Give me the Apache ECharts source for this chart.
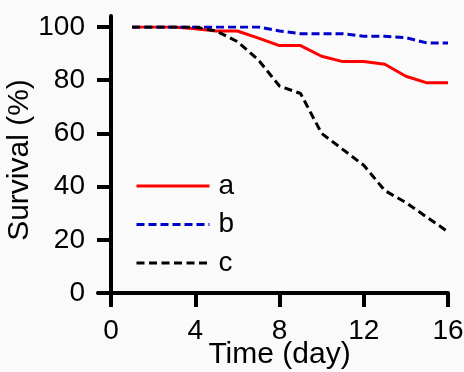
<!DOCTYPE html>
<html>
<head>
<meta charset="utf-8">
<style>html,body{margin:0;padding:0;background:#fafafa;}#chart{width:464px;height:372px;}</style>
<script src="https://cdn.jsdelivr.net/npm/echarts@6/dist/echarts.min.js"></script>
</head>
<body>
<div id="chart"></div>
<script>
const days = [1, 2, 3, 4, 5, 6, 7, 8, 9, 10, 11, 12, 13, 14, 15, 16];
const seriesA = [100, 100, 100, 99.3, 98.5, 98.5, 95.8, 93, 93, 89, 87, 87, 86, 81.5, 79, 79];
const seriesB = [100, 100, 100, 100, 100, 100, 100, 98.5, 97.5, 97.5, 97.5, 96.5, 96.5, 96, 94, 94];
const seriesC = [100, 100, 100, 100, 98.5, 94.5, 87.6, 77.8, 75, 60, 54, 48, 38.5, 34, 28.5, 23];
const xRange = [0, 16, 4];
const yRange = [0, 100, 20];
const names = ['a', 'b', 'c'];

const font = 'Liberation Sans, Arial, sans-serif';
const chart = echarts.init(document.getElementById('chart'));
const toPairs = arr => days.map((d, i) => [d, arr[i]]);
const black = '#000';
chart.setOption({
  backgroundColor: '#fafafa',
  animation: false,
  grid: [
    { left: 111, right: 16, top: 27, bottom: 79, containLabel: false, outerBoundsMode: 'none' },
    { left: 98, right: 16, top: 16, bottom: 70, containLabel: false, outerBoundsMode: 'none' }
  ],
  legend: {
    left: 135, top: 172, orient: 'vertical', padding: 0,
    itemWidth: 73, itemHeight: 20, itemGap: 10.5,
    data: names,
    itemStyle: { opacity: 0 },
    lineStyle: { width: 3 },
    textStyle: { fontFamily: font, fontSize: 28, color: black, padding: [0, 0, 0, 4], lineHeight: 28 }
  },
  xAxis: [
    {
      gridIndex: 0, type: 'value', min: xRange[0], max: xRange[1], interval: xRange[2],
      name: 'Time (day)', nameLocation: 'middle', nameGap: 47, nameMoveOverlap: false,
      nameTextStyle: { fontFamily: font, fontSize: 30, color: black },
      axisLine: { show: false },
      axisTick: { show: true, length: 14, lineStyle: { width: 4, color: black } },
      axisLabel: { fontFamily: font, fontSize: 28, color: black, margin: 24 },
      splitLine: { show: false }
    },
    {
      gridIndex: 1, type: 'value', min: -0.62, max: 16,
      axisLine: { onZero: true, lineStyle: { color: black, width: 4 } },
      axisTick: { show: false }, axisLabel: { show: false }, splitLine: { show: false }
    }
  ],
  yAxis: [
    {
      gridIndex: 0, type: 'value', min: yRange[0], max: yRange[1], interval: yRange[2],
      name: 'Survival (%)', nameLocation: 'middle', nameGap: 76, nameMoveOverlap: false,
      nameTextStyle: { fontFamily: font, fontSize: 30, color: black },
      axisLine: { show: false },
      axisTick: { show: true, length: 14, lineStyle: { width: 4, color: black } },
      axisLabel: { fontFamily: font, fontSize: 28, color: black, margin: 26 },
      splitLine: { show: false }
    },
    {
      gridIndex: 1, type: 'value', min: -3.4, max: 104.1,
      axisLine: { show: true, onZero: true, lineStyle: { color: black, width: 4 } },
      axisTick: { show: false }, axisLabel: { show: false }, splitLine: { show: false }
    }
  ],
  series: [
    { name: names[0], type: 'line', xAxisIndex: 0, yAxisIndex: 0, data: toPairs(seriesA), symbol: 'none', color: '#ff0000',
      lineStyle: { color: '#ff0000', width: 3, type: 'solid' } },
    { name: names[1], type: 'line', xAxisIndex: 0, yAxisIndex: 0, data: toPairs(seriesB), symbol: 'none', color: '#0000cc',
      lineStyle: { color: '#0000cc', width: 3, type: [8, 4] } },
    { name: names[2], type: 'line', xAxisIndex: 0, yAxisIndex: 0, data: toPairs(seriesC), symbol: 'none', color: '#000000',
      lineStyle: { color: '#000000', width: 3, type: [8, 4.5] } }
  ]
});
</script>
</body>
</html>
